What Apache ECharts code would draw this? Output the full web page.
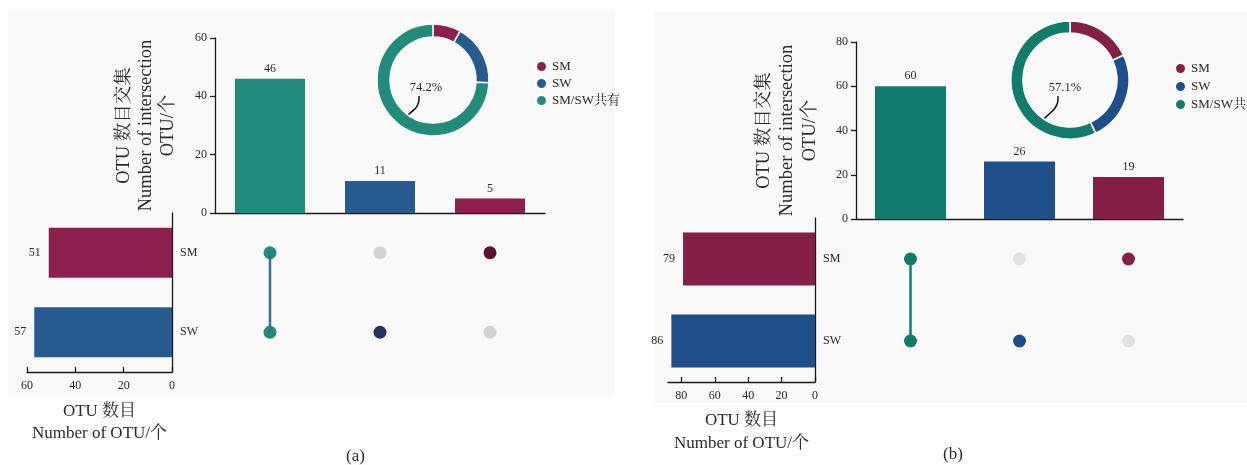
<!DOCTYPE html>
<html><head><meta charset="utf-8">
<script src="https://cdn.jsdelivr.net/npm/echarts@6/dist/echarts.min.js"></script>
<style>html,body{margin:0;padding:0;background:#fff}#c{width:1247px;height:465px}</style>
</head><body><div id="c"></div>
<script>
// ---------------- data ----------------
const setNames = ['SM', 'SW'];
const intersectionNames = ['SM/SW共有', 'SW', 'SM'];
const membership = [[1, 1], [0, 1], [1, 0]]; // per intersection: [in SM, in SW]
const intersectionCountsA = [46, 11, 5];
const setCountsA = [51, 57];
const intersectionCountsB = [60, 26, 19];
const setCountsB = [79, 86];
const pieNames = ['SM', 'SW', 'SM/SW共有'];
const pieValuesA = [5, 11, 46];
const pieValuesB = [19, 26, 60];
const topTicksA = [0, 20, 40, 60];
const topTicksB = [0, 20, 40, 60, 80];
const sideTicksA = [0, 20, 40, 60];
const sideTicksB = [0, 20, 40, 60, 80];
const topTitle = 'OTU 数目交集\nNumber of intersection\nOTU/个';
const sideTitle = 'OTU 数目\nNumber of OTU/个';
const panelLabels = ['(a)', '(b)'];

// ---------------- styles / layout ----------------
const FONT = "'Liberation Serif','Noto Serif CJK SC','Noto Sans CJK SC',serif";
const TXT = '#2a2a2a';
const AX = '#1a1a1a';

const panels = [
  {
    inter: intersectionCountsA, sets: setCountsA, pie: pieValuesA,
    topTicks: topTicksA, sideTicks: sideTicksA, sideMax: 60,
    barColors: ['#238b7c', '#275b8e', '#8d1f4f'],
    setColors: ['#8d1f4f', '#275b8e'],
    dotColors: ['#238b7c', '#22335e', '#5a1233'], gray: '#d4d4d4', linkColor: '#3d6f8c',
    pieColors: ['#8d1f4f', '#275b8e', '#238b7c'],
    top: {l: 215, t: 38, w: 330, h: 175}, side: {l: 27, t: 213, w: 145, h: 159},
    barW: 70, setBarW: 50, nameGapTop: 36, nameGapSide: 29, lh: 22,
    pc: {cx: 433, cy: 80, r0: 43, r1: 56, lx: -7, ly: 8},
    legend: {left: 530, top: 55, gap: 4},
    bg: [8, 10, 607, 387], lab: {left: 341, top: 443}
  },
  {
    inter: intersectionCountsB, sets: setCountsB, pie: pieValuesB,
    topTicks: topTicksB, sideTicks: sideTicksB, sideMax: 88,
    barColors: ['#137b6b', '#1f4f88', '#841f48'],
    setColors: ['#841f48', '#1f4f88'],
    dotColors: ['#137b6b', '#1f4c8b', '#851f48'], gray: '#e1e3e3', linkColor: '#137b6b',
    pieColors: ['#841f48', '#1f4f88', '#137b6b'],
    top: {l: 856, t: 42, w: 327, h: 177}, side: {l: 668, t: 218, w: 147, h: 164},
    barW: 71, setBarW: 53, nameGapTop: 34, nameGapSide: 27, lh: 23,
    pc: {cx: 1070, cy: 80, r0: 47, r1: 59, lx: -5, ly: 8},
    legend: {left: 1169, top: 57, gap: 5},
    bg: [653, 12, 594, 391], lab: {left: 938, top: 441}
  }
];

const grid = [], xAxis = [], yAxis = [], series = [], legend = [], graphic = [], title = [];

panels.forEach((p, k) => {
  const gi = k * 3;
  const line = {show: true, lineStyle: {color: AX, width: 1.3}};
  const lbl = {color: TXT, fontFamily: FONT, fontSize: 12};
  grid.push(
    {left: p.top.l, top: p.top.t, width: p.top.w, height: p.top.h},
    {left: p.side.l, top: p.side.t, width: p.side.w, height: p.side.h},
    {left: p.top.l, top: p.side.t, width: p.top.w, height: p.side.h}
  );
  xAxis.push(
    {gridIndex: gi, type: 'category', data: intersectionNames, axisLine: line,
     axisTick: {inside: true, alignWithLabel: true, length: 5, lineStyle: {color: AX, width: 1.3}},
     axisLabel: {show: false}},
    {gridIndex: gi + 1, type: 'value', inverse: true, min: 0, max: p.sideMax, position: 'bottom',
     axisLine: line, splitLine: {show: false},
     axisTick: {show: true, inside: true, length: 5, customValues: p.sideTicks, lineStyle: {color: AX, width: 1.3}},
     axisLabel: Object.assign({customValues: p.sideTicks, margin: 8}, lbl),
     name: sideTitle, nameLocation: 'middle', nameGap: p.nameGapSide,
     nameTextStyle: {fontFamily: FONT, fontSize: 17, color: TXT, lineHeight: p.lh}},
    {gridIndex: gi + 2, type: 'category', data: intersectionNames, show: false}
  );
  yAxis.push(
    {gridIndex: gi, type: 'value', min: 0, max: p.topTicks[p.topTicks.length - 1], interval: 20,
     axisLine: line, splitLine: {show: false},
     axisTick: {show: true, length: 5, lineStyle: {color: AX, width: 1.3}},
     axisLabel: Object.assign({margin: 8}, lbl),
     name: topTitle, nameLocation: 'middle', nameRotate: 90, nameGap: p.nameGapTop,
     nameTextStyle: {fontFamily: FONT, fontSize: 18.5, color: TXT, lineHeight: p.lh}},
    {gridIndex: gi + 1, type: 'category', data: setNames, inverse: true, position: 'right',
     axisLine: line, axisTick: {inside: true, alignWithLabel: true, length: 4, lineStyle: {color: AX, width: 1.3}},
     axisLabel: Object.assign({margin: 8}, lbl)},
    {gridIndex: gi + 2, type: 'category', data: setNames, inverse: true, show: false}
  );
  // intersection bars
  series.push({
    type: 'bar', xAxisIndex: gi, yAxisIndex: gi, barWidth: p.barW,
    data: p.inter.map((v, i) => ({value: v, itemStyle: {color: p.barColors[i]}})),
    label: {show: true, position: 'top', distance: 4, color: TXT, fontFamily: FONT, fontSize: 12}
  });
  // set size bars
  series.push({
    type: 'bar', xAxisIndex: gi + 1, yAxisIndex: gi + 1, barWidth: p.setBarW,
    data: p.sets.map((v, i) => ({value: v, itemStyle: {color: p.setColors[i]}})),
    label: {show: true, position: 'left', distance: 8, color: TXT, fontFamily: FONT, fontSize: 12}
  });
  // link line for the shared intersection
  const links = [];
  membership.forEach((m, i) => {
    const rows = [];
    m.forEach((f, j) => { if (f) rows.push([i, j]); });
    if (rows.length > 1) links.push(rows);
  });
  links.forEach(rows => series.push({
    type: 'line', xAxisIndex: gi + 2, yAxisIndex: gi + 2, data: rows, symbol: 'none', z: 5,
    lineStyle: {color: p.linkColor, width: 2.5}
  }));
  // matrix dots
  const dots = [];
  membership.forEach((m, i) => m.forEach((f, j) => dots.push({
    value: [i, j], itemStyle: {color: f ? p.dotColors[i] : p.gray, opacity: 1}
  })));
  series.push({type: 'scatter', xAxisIndex: gi + 2, yAxisIndex: gi + 2, symbolSize: 13, data: dots, z: 4,
    itemStyle: {opacity: 1}});
  // donut
  const pc = p.pc;
  series.push({
    type: 'pie', center: [pc.cx, pc.cy], radius: [pc.r0, pc.r1], startAngle: 90, clockwise: true,
    avoidLabelOverlap: false,
    itemStyle: {borderColor: '#ffffff', borderWidth: 1.5},
    data: pieNames.map((n, i) => ({
      name: n, value: p.pie[i], itemStyle: {color: p.pieColors[i]},
      label: {show: i === 2}, labelLine: {show: i === 2}
    })),
    label: {formatter: q => q.percent.toFixed(1) + '%', color: TXT, fontFamily: FONT, fontSize: 12.5},
    labelLine: {smooth: 0.4, lineStyle: {color: '#111', width: 1.5}},
    labelLayout: q => {
      if (q.dataIndex !== 2) return {};
      const a = 33 * Math.PI / 180;
      return {
        x: pc.cx + pc.lx, y: pc.cy + pc.ly, align: 'center', verticalAlign: 'middle',
        labelLinePoints: [
          [pc.cx + pc.lx - pc.r0 * Math.sin(a) + 5, pc.cy + pc.r0 * Math.cos(a) - 1],
          [pc.cx + pc.lx - 7, pc.cy + 26],
          [pc.cx + pc.lx - 7, pc.cy + 16]
        ]
      };
    },
    emphasis: {disabled: true}
  });
  legend.push({
    orient: 'vertical', left: p.legend.left, top: p.legend.top, icon: 'circle',
    itemWidth: 11, itemHeight: 11, itemGap: p.legend.gap, selectedMode: false,
    textStyle: {fontFamily: FONT, fontSize: 13, color: TXT, lineHeight: 13},
    data: pieNames.map((n, i) => ({name: n, itemStyle: {color: p.pieColors[i]}}))
  });
  graphic.push({type: 'rect', silent: true, z: -10,
    shape: {x: p.bg[0], y: p.bg[1], width: p.bg[2], height: p.bg[3]}, style: {fill: '#f9f9f9'}});
  title.push({text: panelLabels[k], left: p.lab.left, top: p.lab.top,
    textStyle: {fontFamily: FONT, fontSize: 17, fontWeight: 'normal', color: TXT}});
});

const chart = echarts.init(document.getElementById('c'), null, {renderer: 'canvas'});
chart.setOption({animation: false, backgroundColor: '#ffffff', title, grid, xAxis, yAxis, series, legend, graphic});
</script></body></html>
